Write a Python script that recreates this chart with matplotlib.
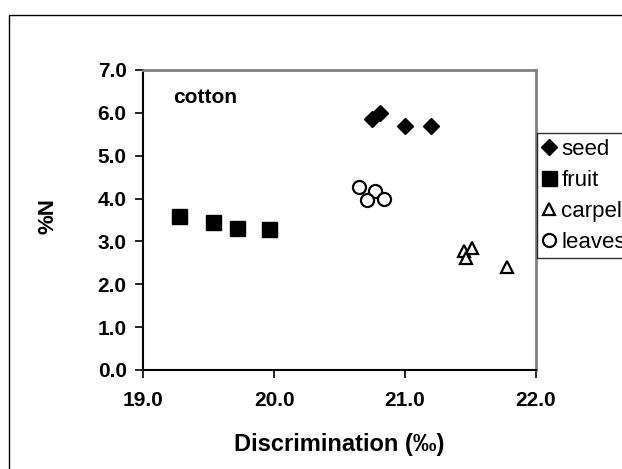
import matplotlib
matplotlib.use("Agg")
import matplotlib.pyplot as plt
from matplotlib.patches import Rectangle

plt.rcParams['font.family'] = ['Liberation Sans', 'DejaVu Sans']

# discrimination (permil) vs %N for each cotton tissue
seed_x = [20.75, 20.81, 21.00, 21.20]
seed_y = [5.85, 6.00, 5.70, 5.70]
fruit_x = [19.27, 19.53, 19.72, 19.96]
fruit_y = [3.60, 3.45, 3.31, 3.28]
carpel_x = [21.45, 21.51, 21.47, 21.78]
carpel_y = [2.78, 2.84, 2.61, 2.40]
leaves_x = [20.65, 20.77, 20.71, 20.84]
leaves_y = [4.26, 4.18, 3.97, 3.98]

x_ticks = [19.0, 20.0, 21.0, 22.0]
y_ticks = [0.0, 1.0, 2.0, 3.0, 4.0, 5.0, 6.0, 7.0]

fig = plt.figure(figsize=(6.22, 4.69), dpi=100)
ax = fig.add_axes([0.2304, 0.2111, 0.6309, 0.6397])

ax.plot(seed_x, seed_y, ls='none', marker='D', ms=8.2, color='black', label='seed')
ax.plot(fruit_x, fruit_y, ls='none', marker='s', ms=10.8, color='black', label='fruit')
ax.plot(carpel_x, carpel_y, ls='none', marker='^', ms=9, mfc='white', mec='black',
        mew=1.6, label='carpel')
ax.plot(leaves_x, leaves_y, ls='none', marker='o', ms=9.4, mfc='white', mec='black',
        mew=1.6, label='leaves')

ax.set_xlim(19.0, 22.0)
ax.set_ylim(0.0, 7.0)
ax.set_xticks(x_ticks)
ax.set_yticks(y_ticks)
ax.set_xticklabels([f'{v:.1f}' for v in x_ticks])
ax.set_yticklabels([f'{v:.1f}' for v in y_ticks])
ax.tick_params(axis='both', direction='out', length=6, width=1.2, color='black',
               labelsize=15)
ax.tick_params(axis='x', pad=9)
ax.tick_params(axis='y', pad=6)
for lab in ax.get_xticklabels() + ax.get_yticklabels():
    lab.set_fontweight('bold')

for side in ('top', 'right'):
    ax.spines[side].set_color('#808080')
    ax.spines[side].set_linewidth(2)
for side in ('left', 'bottom'):
    ax.spines[side].set_color('black')
    ax.spines[side].set_linewidth(1.5)

ax.set_xlabel('Discrimination (‰)', fontsize=17, fontweight='bold')
ax.set_ylabel('%N', fontsize=16, fontweight='bold')
ax.xaxis.set_label_coords(0.5, -0.21)
ax.yaxis.set_label_coords(-0.216, 0.512)

ax.text(0.075, 0.94, 'cotton', transform=ax.transAxes, fontsize=15,
        fontweight='bold', ha='left', va='top')

leg = ax.legend(loc='upper left', bbox_to_anchor=(537 / 622, 1 - 133 / 469),
                bbox_transform=fig.transFigure, fontsize=16, frameon=True,
                fancybox=False, borderaxespad=0, borderpad=0.25,
                handlelength=0.6, handletextpad=0.25, labelspacing=0.45,
                markerscale=1.0)
leg.get_frame().set_edgecolor('black')
leg.get_frame().set_linewidth(1)

# outer chart border, open on the right and bottom edges
fig.patches.append(Rectangle((9 / 622, -0.1), 1.2, 1.1 - 15 / 469,
                             transform=fig.transFigure, fill=False,
                             edgecolor='black', linewidth=1))

fig.savefig('out.png', dpi=100)
